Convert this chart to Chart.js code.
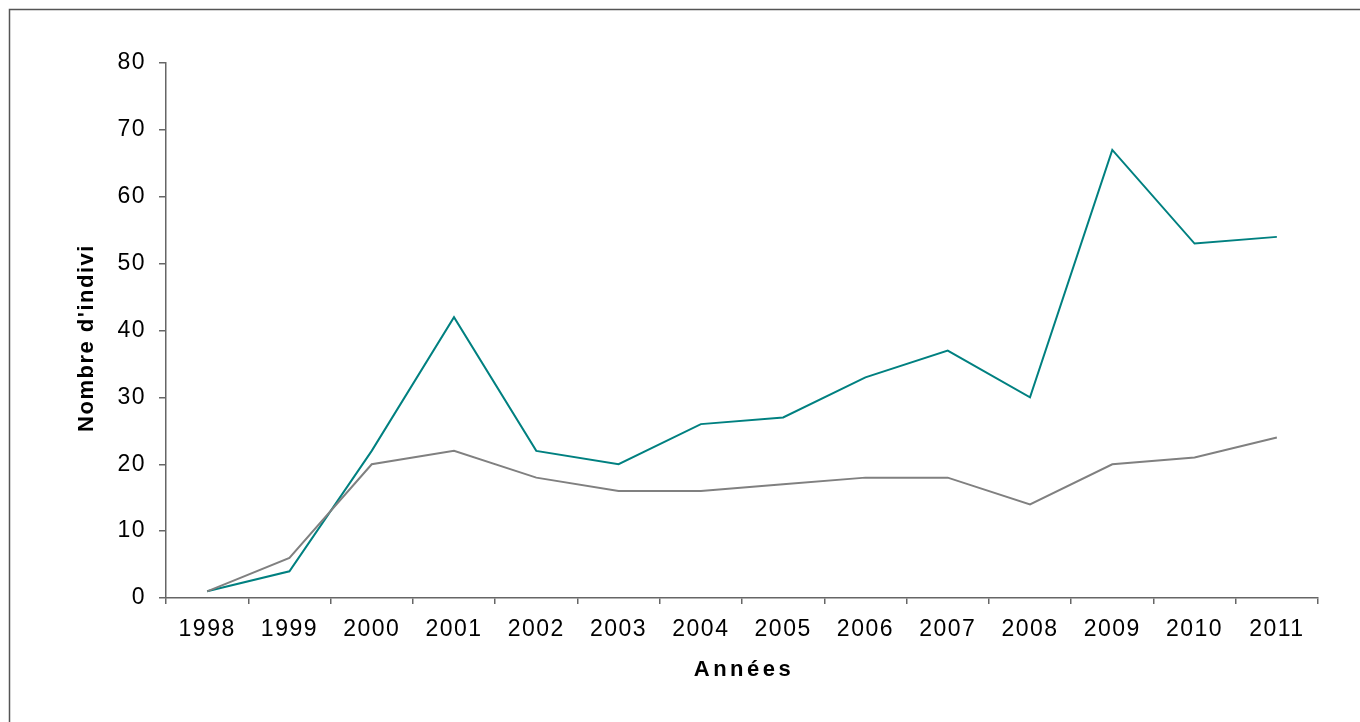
<!DOCTYPE html>
<html>
<head>
<meta charset="utf-8">
<script src="https://cdn.jsdelivr.net/npm/chart.js@4.4.1/dist/chart.umd.min.js"></script>
<style>
  html, body { margin: 0; padding: 0; background: #fff; }
  #wrap { position: relative; width: 1360px; height: 722px; }
</style>
</head>
<body>
<div id="wrap"><canvas id="chart" width="1360" height="722"></canvas></div>
<script>
// Data
const annees = ["1998", "1999", "2000", "2001", "2002", "2003", "2004",
  "2005", "2006", "2007", "2008", "2009", "2010", "2011"];
const serieTeal = [1, 4, 22, 42, 22, 20, 26, 27, 33, 37, 30, 67, 53, 54];
const serieGris = [1, 6, 20, 22, 18, 16, 16, 17, 18, 18, 14, 20, 21, 24];
const yTicks = [0, 10, 20, 30, 40, 50, 60, 70, 80];

const titreY = "Nombre d'indivi";
const titreX = "Années";

const FONT = "'Liberation Sans', Arial, sans-serif";

// Frame, letter spacing for ticks and the two axis titles
const decorPlugin = {
  id: "decor",
  beforeDraw(chart) {
    const ctx = chart.ctx;
    ctx.save();
    ctx.strokeStyle = "#555";
    ctx.lineWidth = 1.5;
    ctx.beginPath();
    ctx.moveTo(9.5, 722);
    ctx.lineTo(9.5, 9.5);
    ctx.lineTo(1360, 9.5);
    ctx.stroke();
    ctx.restore();
    ctx.letterSpacing = "1.5px";
  },
  afterDraw(chart) {
    const ctx = chart.ctx;
    const area = chart.chartArea;
    ctx.save();
    ctx.fillStyle = "#000";
    ctx.font = "bold 22px " + FONT;
    ctx.textBaseline = "middle";
    ctx.textAlign = "center";

    // x title
    ctx.letterSpacing = "3.5px";
    ctx.fillText(titreX, (area.left + area.right) / 2 + 2, 670);

    // y title
    ctx.letterSpacing = "1.5px";
    ctx.translate(87, 339);
    ctx.rotate(-Math.PI / 2);
    ctx.fillText(titreY, 1, 0);
    ctx.restore();
    ctx.letterSpacing = "0px";
  }
};

const ctx = document.getElementById("chart").getContext("2d");
new Chart(ctx, {
  type: "line",
  data: {
    labels: annees,
    datasets: [
      {
        data: serieGris,
        borderColor: "#808080",
        borderWidth: 2,
        pointRadius: 0,
        tension: 0
      },
      {
        data: serieTeal,
        borderColor: "#008080",
        borderWidth: 2,
        pointRadius: 0,
        tension: 0
      }
    ]
  },
  options: {
    responsive: false,
    animation: false,
    layout: { padding: { left: 0, right: 42, top: 63, bottom: 0 } },
    plugins: {
      legend: { display: false },
      tooltip: { enabled: false }
    },
    scales: {
      x: {
        offset: true,
        grid: {
          offset: true,
          drawOnChartArea: false,
          drawTicks: true,
          tickLength: 6,
          color: "#666",
          lineWidth: 1.5
        },
        border: { color: "#666", width: 1.5 },
        ticks: {
          color: "#000",
          font: { family: FONT, size: 23 },
          padding: 12,
          maxRotation: 0,
          autoSkip: false
        },
        afterFit(scale) { scale.height = 124; }
      },
      y: {
        min: 0,
        max: 80,
        afterBuildTicks(scale) {
          scale.ticks = yTicks.map(v => ({ value: v }));
        },
        grid: {
          drawOnChartArea: false,
          drawTicks: true,
          tickLength: 7,
          color: "#666",
          lineWidth: 1.5
        },
        border: { color: "#666", width: 1.5 },
        ticks: {
          color: "#000",
          font: { family: FONT, size: 23 },
          padding: 13
        },
        afterFit(scale) { scale.width = 166; }
      }
    }
  },
  plugins: [decorPlugin]
});
</script>
</body>
</html>
